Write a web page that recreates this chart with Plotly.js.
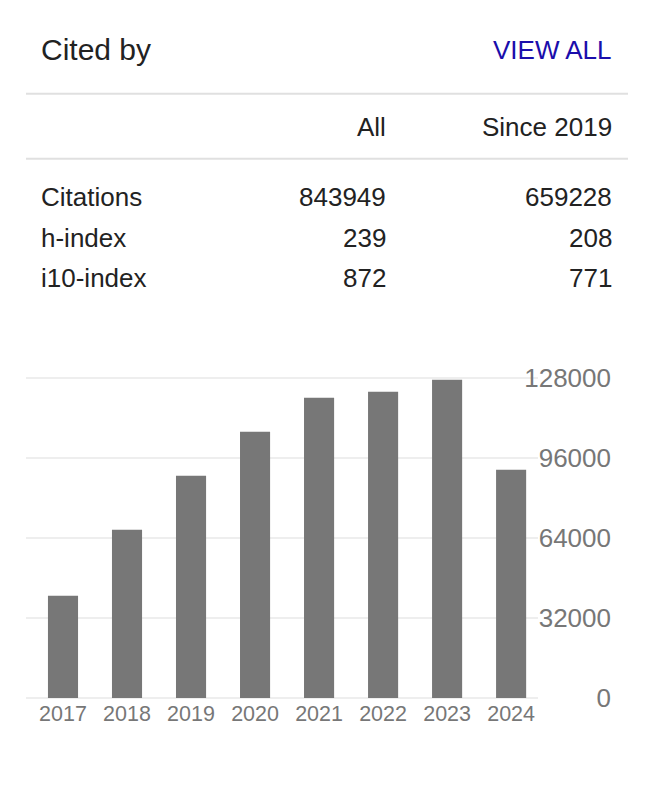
<!DOCTYPE html>
<html>
<head>
<meta charset="utf-8">
<script src="https://cdn.plot.ly/plotly-3.0.1.min.js"></script>
<style>
html,body{margin:0;padding:0;background:#fff;}
#chart{width:662px;height:786px;}
</style>
</head>
<body>
<div id="chart"></div>
<script>
// ---- data ----
var years = ['2017','2018','2019','2020','2021','2022','2023','2024'];
var citations = [40900, 67300, 88900, 106500, 120100, 122500, 127300, 91300];
var yTickVals = [0, 32000, 64000, 96000, 128000];
var yTickText = ['0', '32000', '64000', '96000', '128000'];
var metricNames = ['Citations', 'h-index', 'i10-index'];
var allValues = ['843949', '239', '872'];
var sinceValues = ['659228', '208', '771'];
var headerTitle = 'Cited by';
var headerLink = 'VIEW ALL';
var colHeaders = ['All', 'Since 2019'];

// ---- layout geometry (pixels) ----
var W = 662, H = 786;
var ML = 26, MR = 22, PT = 373.3, PB = 698.3;
var plotW = W - ML - MR, plotH = PB - PT;
function px(x){ return (x - ML) / plotW; }
function py(y){ return (PB - y) / plotH; }

var FONT = '"Liberation Sans", Arial, Helvetica, sans-serif';
var textCol = '#222222';
var PAD = 3; // annotation inner padding compensation

var annotations = [];
function ann(text, x, y, anchor, size, color){
  var xx = anchor === 'left' ? x - PAD : x + PAD;
  annotations.push({
    text: text, xref: 'paper', yref: 'paper',
    x: px(xx), y: py(y), xanchor: anchor, yanchor: 'middle',
    showarrow: false, font: {family: FONT, size: size, color: color}
  });
}
ann(headerTitle, 42, 50, 'left', 30, textCol);
ann(headerLink, 611, 50, 'right', 26, '#1a0dab');
ann(colHeaders[0], 385, 127, 'right', 26, textCol);
ann(colHeaders[1], 611, 127, 'right', 26, textCol);
var rowY = [197, 238, 278];
for (var i = 0; i < metricNames.length; i++) {
  ann(metricNames[i], 42, rowY[i], 'left', 26, textCol);
  ann(allValues[i], 385, rowY[i], 'right', 26, textCol);
  ann(sinceValues[i], 611, rowY[i], 'right', 26, textCol);
}

var shapes = [94, 159].map(function(y){
  return {type: 'line', xref: 'paper', yref: 'paper',
    x0: px(26), x1: px(628), y0: py(y), y1: py(y),
    line: {color: '#e0e0e0', width: 2}};
});

var trace = {
  type: 'bar', x: years, y: citations,
  marker: {color: '#777777'}, hoverinfo: 'skip'
};

var layout = {
  width: W, height: H,
  margin: {l: ML, r: MR, t: PT, b: H - PB, pad: 0},
  paper_bgcolor: '#ffffff', plot_bgcolor: '#ffffff',
  showlegend: false,
  bargap: 0.53,
  font: {family: FONT, color: '#777777'},
  xaxis: {
    type: 'category', domain: [0, 512 / plotW],
    range: [-0.578, 7.42], showgrid: false, showline: false,
    zeroline: false, ticks: '', fixedrange: true,
    tickfont: {family: FONT, size: 21.5, color: '#777777'}
  },
  yaxis: {
    anchor: 'free', position: px(611), side: 'left',
    range: [0, 130000], tickvals: yTickVals, ticktext: yTickText,
    showgrid: true, gridcolor: '#eeeeee', gridwidth: 2,
    zeroline: true, zerolinecolor: '#eeeeee', zerolinewidth: 2,
    showline: false, ticks: '', fixedrange: true,
    tickfont: {family: FONT, size: 26, color: '#777777'}
  },
  annotations: annotations,
  shapes: shapes
};

Plotly.newPlot('chart', [trace], layout, {displayModeBar: false, staticPlot: true});
</script>
</body>
</html>
